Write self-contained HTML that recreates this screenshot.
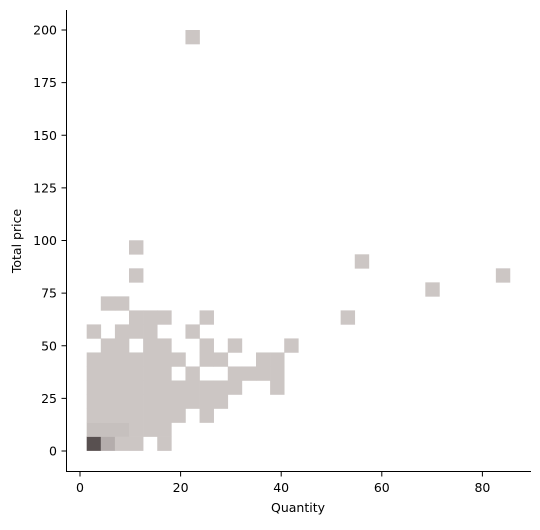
<!DOCTYPE html>
<html><head><meta charset="utf-8"><style>
body{margin:0;background:#fff;}
svg text{font-family:"DejaVu Sans","Liberation Sans",sans-serif;fill:#000;}
</style></head><body>
<svg id="chart" width="540" height="525">
<g id="cells"></g>
<g id="axes"></g>
</svg>
<script>
// bin column index, bin row index, count
const binCols = [0,1,2,3,5, 0,1,2,3,4,5, 0,1,2,3,4,5,6,8, 0,1,2,3,4,5,6,7,8,9, 0,1,2,3,4,5,6,7,8,9,10,13, 0,1,2,3,4,5,7,10,11,12,13, 0,1,2,3,4,5,6,8,9,12,13, 1,2,4,5,8,10,14, 0,2,3,4,7, 3,4,5,8,18, 1,2, 24, 3,29, 19, 3, 7];
const binRows = [0,0,0,0,0, 1,1,1,1,1,1, 2,2,2,2,2,2,2,2, 3,3,3,3,3,3,3,3,3,3, 4,4,4,4,4,4,4,4,4,4,4,4, 5,5,5,5,5,5,5,5,5,5,5, 6,6,6,6,6,6,6,6,6,6,6, 7,7,7,7,7,7,7, 8,8,8,8,8, 9,9,9,9,9, 10,10, 11, 12,12, 13, 14, 29];
const binCounts = [20,5,1,1,1, 2,2,2,1,1,1, 1,1,1,1,1,1,1,1, 1,1,1,1,1,1,1,1,1,1, 1,1,1,1,1,1,1,1,1,1,1,1, 1,1,1,1,1,1,1,1,1,1,1, 1,1,1,1,1,1,1,1,1,1,1, 1,1,1,1,1,1,1, 1,1,1,1,1, 1,1,1,1,1, 1,1, 1, 1,1, 1, 1, 1];
const xTicks = [0,20,40,60,80];
const yTicks = [0,25,50,75,100,125,150,175,200];
const binX0 = 1.33, binW = 2.805, binY0 = 0.2, binH = 6.66;

const sx = v => 80 + v*5.03;
const sy = v => 451 - v*2.105;
const NS = 'http://www.w3.org/2000/svg';
const maxC = Math.max(...binCounts);
function col(c){
  const t = maxC>1 ? (c-1)/(maxC-1) : 0;
  const a=[204,198,196], b=[88,80,80];
  return 'rgb('+a.map((v,i)=>Math.round(v+(b[i]-v)*t)).join(',')+')';
}
const cells = document.getElementById('cells');
binCounts.forEach((c,i)=>{
  const r=document.createElementNS(NS,'rect');
  const x0=sx(binX0+binCols[i]*binW), x1=sx(binX0+(binCols[i]+1)*binW);
  const y0=sy(binY0+binRows[i]*binH), y1=sy(binY0+(binRows[i]+1)*binH);
  r.setAttribute('x',x0);r.setAttribute('y',y1);
  r.setAttribute('width',x1-x0+0.3);r.setAttribute('height',y0-y1+0.3);
  r.setAttribute('fill',col(c));
  
  
  cells.appendChild(r);
});
const ax = document.getElementById('axes');
let h='';
h+='<line x1="66.5" y1="10" x2="66.5" y2="471.5" stroke="#000" stroke-width="1"/>';
h+='<line x1="66" y1="471.5" x2="531" y2="471.5" stroke="#000" stroke-width="1"/>';
xTicks.forEach(t=>{const x=sx(t);
 h+='<line x1="'+x+'" y1="471.5" x2="'+x+'" y2="476.5" stroke="#000" stroke-width="1"/>';
 h+='<text x="'+x+'" y="492" font-size="12.5" text-anchor="middle">'+t+'</text>';});
yTicks.forEach(t=>{const y=sy(t);
 h+='<line x1="61.5" y1="'+y+'" x2="66.5" y2="'+y+'" stroke="#000" stroke-width="1"/>';
 h+='<text x="57" y="'+(y+4.5)+'" font-size="12.5" text-anchor="end">'+t+'</text>';});
h+='<text x="298" y="512" font-size="12.5" text-anchor="middle">Quantity</text>';
h+='<text x="21" y="241" font-size="12.5" text-anchor="middle" transform="rotate(-90 21 241)">Total price</text>';
ax.innerHTML=h;
</script>
</body></html>
